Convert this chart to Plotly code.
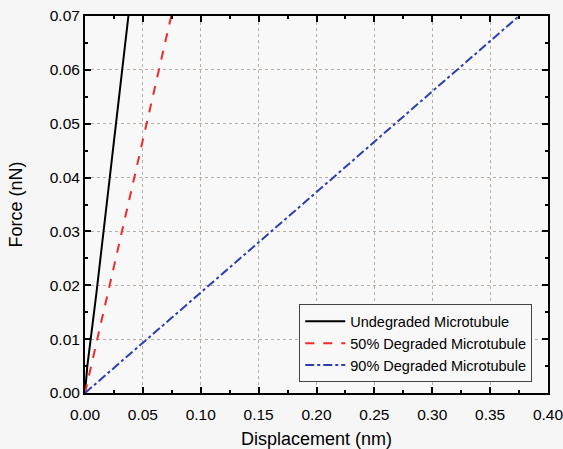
import plotly.graph_objects as go

# Data
undeg_x = [0.0, 0.002, 0.010, 0.020, 0.030, 0.0375]
undeg_y = [0.0, 0.005, 0.0188, 0.0375, 0.056, 0.070]
deg50_x = [0.0, 0.010, 0.020, 0.040, 0.060, 0.0745]
deg50_y = [0.0, 0.0094, 0.0188, 0.0376, 0.0564, 0.070]
deg90_x = [0.0, 0.05, 0.10, 0.20, 0.30, 0.375]
deg90_y = [0.0, 0.0093, 0.0187, 0.0373, 0.0560, 0.070]

names = ["Undegraded Microtubule", "50% Degraded Microtubule", "90% Degraded Microtubule"]
xticks = [0.00, 0.05, 0.10, 0.15, 0.20, 0.25, 0.30, 0.35, 0.40]
yticks = [0.00, 0.01, 0.02, 0.03, 0.04, 0.05, 0.06, 0.07]

FONT = "Liberation Sans, Arial"

fig = go.Figure()
fig.add_trace(go.Scatter(x=undeg_x, y=undeg_y, mode="lines", name=names[0],
                         line=dict(color="black", width=2, dash="solid")))
fig.add_trace(go.Scatter(x=deg50_x, y=deg50_y, mode="lines", name=names[1],
                         line=dict(color="#ee2a2a", width=2, dash="dash")))
fig.add_trace(go.Scatter(x=deg90_x, y=deg90_y, mode="lines", name=names[2],
                         line=dict(color="#2b3fb0", width=2, dash="dashdot")))

axis_common = dict(
    showline=True, linecolor="black", linewidth=2, mirror="ticks",
    ticks="inside", ticklen=6, tickwidth=1.5, tickcolor="black",
    showgrid=True, gridcolor="#b8aea6", griddash="dot", gridwidth=1,
    zeroline=False, ticklabeloverflow="allow", automargin=False,
    tickfont=dict(family=FONT, size=15.5, color="black"),
)

fig.update_xaxes(range=[0, 0.40], tickvals=xticks, ticktext=[f"{v:.2f}" for v in xticks],
                 minor=dict(ticks="inside", ticklen=3, tickcolor="black", dtick=0.025, showgrid=False),
                 ticklabelstandoff=6,
                 title=dict(text="Displacement (nm)", font=dict(family=FONT, size=18, color="black"), standoff=12),
                 **axis_common)
fig.update_yaxes(range=[0, 0.07], tickvals=yticks, ticktext=[f"{v:.2f}" for v in yticks],
                 minor=dict(ticks="inside", ticklen=3, tickcolor="black", dtick=0.005, showgrid=False),
                 title=dict(text="Force (nN)", font=dict(family=FONT, size=18, color="black"), standoff=22),
                 **axis_common)

fig.update_layout(
    width=563, height=449,
    margin=dict(l=85, r=15, t=16, b=56),
    paper_bgcolor="#f6f6f6", plot_bgcolor="#f8f8f8",
    showlegend=True,
    legend=dict(x=0.966, y=0.028, xanchor="right", yanchor="bottom",
                bgcolor="rgba(248,248,248,1)", bordercolor="#444", borderwidth=1,
                font=dict(family=FONT, size=14.5, color="black"),
                tracegroupgap=0, itemwidth=40),
)

fig.write_html("out.html")
